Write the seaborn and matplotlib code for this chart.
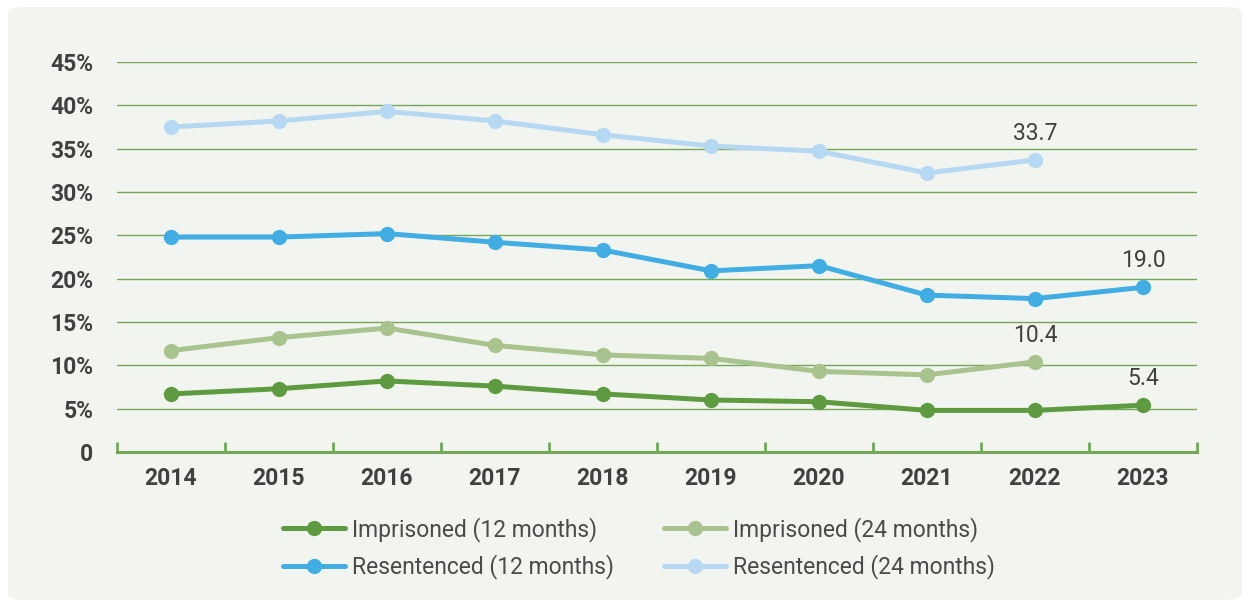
import numpy as np
import pandas as pd
import seaborn as sns
import matplotlib
matplotlib.use("Agg")
import matplotlib.pyplot as plt
from matplotlib.patches import FancyBboxPatch
from matplotlib.ticker import FixedLocator

years = [2014, 2015, 2016, 2017, 2018, 2019, 2020, 2021, 2022, 2023]
imprisoned_12 = [6.7, 7.3, 8.2, 7.6, 6.7, 6.0, 5.8, 4.8, 4.8, 5.4]
imprisoned_24 = [11.7, 13.2, 14.3, 12.3, 11.2, 10.8, 9.3, 8.9, 10.4, np.nan]
resentenced_12 = [24.8, 24.8, 25.2, 24.2, 23.3, 20.9, 21.5, 18.1, 17.7, 19.0]
resentenced_24 = [37.5, 38.2, 39.3, 38.2, 36.6, 35.3, 34.7, 32.2, 33.7, np.nan]
series_names = ["Imprisoned (12 months)", "Imprisoned (24 months)",
                "Resentenced (12 months)", "Resentenced (24 months)"]
y_ticks = [0, 5, 10, 15, 20, 25, 30, 35, 40, 45]
y_tick_labels = ["0", "5%", "10%", "15%", "20%", "25%", "30%", "35%", "40%", "45%"]
end_labels = [(2023, 5.4, "5.4"), (2022, 10.4, "10.4"), (2023, 19.0, "19.0"), (2022, 33.7, "33.7")]

colors = {
    "Imprisoned (12 months)": "#5e9a40",
    "Imprisoned (24 months)": "#a9c38f",
    "Resentenced (12 months)": "#41ade2",
    "Resentenced (24 months)": "#b7d8f2",
}
grid_green = "#74a858"
text_col = "#404040"

frames = []
for name, vals in zip(series_names, [imprisoned_12, imprisoned_24, resentenced_12, resentenced_24]):
    frames.append(pd.DataFrame({"year": years, "value": vals, "series": name}))
df = pd.concat(frames, ignore_index=True)

sns.set_theme(style="white")
plt.rcParams["font.family"] = ["Roboto", "DejaVu Sans"]

fig = plt.figure(figsize=(12.5, 6.07), dpi=100)
fig.patch.set_facecolor("white")
bg = FancyBboxPatch((8 / 1250, 7 / 607), 1234 / 1250, 593 / 607,
                    boxstyle="round,pad=0,rounding_size=0.012",
                    transform=fig.transFigure, facecolor="#f2f5ef", edgecolor="none", zorder=-10)
fig.add_artist(bg)

ax = fig.add_axes([117 / 1250, 1 - 452 / 607, 1080 / 1250, 390 / 607])
ax.set_facecolor("none")
ax.set_zorder(1)

sns.lineplot(data=df, x="year", y="value", hue="series", hue_order=series_names,
             palette=colors, marker="o", markersize=11, markeredgewidth=0,
             linewidth=3.6, ax=ax, legend=True, zorder=3)

ax.set_xlim(2013.5, 2023.5)
ax.set_ylim(0, 45)
for y in y_ticks[1:]:
    ax.axhline(y, color=grid_green, lw=1.0, zorder=1)

ax.set_yticks(y_ticks)
ax.set_yticklabels(y_tick_labels, fontsize=16.5, fontweight="bold", color=text_col)
ax.set_xticks(years)
ax.set_xticklabels([str(y) for y in years], fontsize=16.5, fontweight="bold", color=text_col)
ax.xaxis.set_minor_locator(FixedLocator([y - 0.5 for y in years] + [years[-1] + 0.5]))
ax.tick_params(axis="x", which="major", bottom=True, length=0, pad=11)
ax.tick_params(axis="x", which="minor", bottom=True, length=7, width=2, direction="in",
               color=grid_green)
ax.tick_params(axis="y", left=True, length=0, pad=17)
for side in ["top", "right", "left"]:
    ax.spines[side].set_visible(False)
ax.spines["bottom"].set_color(grid_green)
ax.spines["bottom"].set_linewidth(2.2)
ax.set_xlabel("")
ax.set_ylabel("")

for x, y, t in end_labels:
    ax.annotate(t, (x, y), xytext=(0, 11), textcoords="offset points",
                ha="center", va="bottom", fontsize=16.5, color=text_col)

handles, labels = ax.get_legend_handles_labels()
hmap = dict(zip(labels, handles))
order = ["Imprisoned (12 months)", "Resentenced (12 months)",
         "Imprisoned (24 months)", "Resentenced (24 months)"]
ax.legend([hmap[o] for o in order], order, ncol=2, loc="center",
          bbox_to_anchor=(639 / 1250, 1 - 548 / 607), bbox_transform=fig.transFigure,
          frameon=False, fontsize=16.5, handlelength=2.7, handletextpad=0.3,
          columnspacing=2.2, labelspacing=0.55, labelcolor="#4a4a4a")

fig.savefig("out.png", dpi=100)
